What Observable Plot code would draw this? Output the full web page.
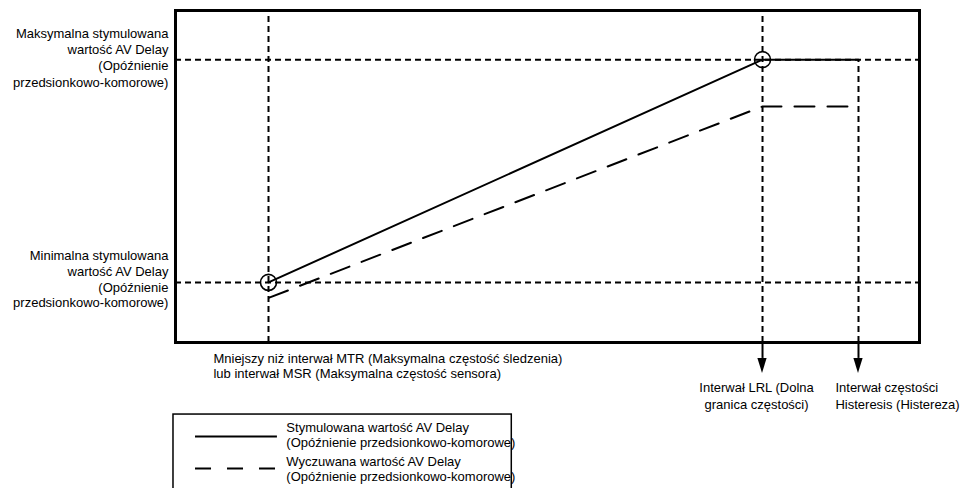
<!DOCTYPE html>
<html>
<head>
<meta charset="utf-8">
<script src="https://cdn.jsdelivr.net/npm/d3@7"></script>
<script src="https://cdn.jsdelivr.net/npm/@observablehq/plot@0.6"></script>
<style>
  html, body { margin: 0; padding: 0; background: white; }
  #chart svg { display: block; }
</style>
</head>
<body>
<div id="chart"></div>
<script>
// ---- Data (conceptual units: frame spans 0..100 on both axes) ----
const guideNames = ["MTR", "LRL", "Hyst"];
const guideX = [12.5, 78.9, 91.8];          // rate intervals
const guideTop = [100, 100, 85.2];           // where each vertical guide starts
const avLevelNames = ["max", "min"];
const avLevels = [85.2, 18.1];               // max / min paced AV delay
const pacedX = [12.5, 78.9, 91.8];
const pacedY = [18.1, 85.2, 85.2];
const sensedX = [12.6, 78.9, 91.8];
const sensedY = [13.5, 71.1, 71.1];

const maxLabel = "Maksymalna stymulowana\nwartość AV Delay\n(Opóźnienie\nprzedsionkowo-komorowe)";
const minLabel = "Minimalna stymulowana\nwartość AV Delay\n(Opóźnienie\nprzedsionkowo-komorowe)";
const mtrLabel = "Mniejszy niż interwał MTR (Maksymalna częstość śledzenia)\nlub interwał MSR (Maksymalna częstość sensora)";
const lrlLabel = "Interwał LRL (Dolna\ngranica częstości)";
const hystLabel = "Interwał częstości\nHisteresis (Histereza)";
const legendLabels = [
  "Stymulowana wartość AV Delay\n(Opóźnienie przedsionkowo-komorowe)",
  "Wyczuwana wartość AV Delay\n(Opóźnienie przedsionkowo-komorowe)"
];

// ---- Derived tables ----
const guides = guideNames.map((n, i) => ({name: n, x: guideX[i], top: guideTop[i]}));
const levels = avLevelNames.map((n, i) => ({name: n, y: avLevels[i]}));
const paced = pacedX.map((x, i) => ({x, y: pacedY[i]}));
const sensed = sensedX.map((x, i) => ({x, y: sensedY[i]}));
const arrowGuides = guides.filter(g => g.name !== "MTR");

const stemEnd = -4.8, tipY = -9.3, headHalf = 0.62;
const heads = arrowGuides.flatMap(g => [
  {name: g.name, y: stemEnd, x1: g.x - headHalf, x2: g.x + headHalf},
  {name: g.name, y: tipY, x1: g.x, x2: g.x}
]);

const FONT = "Liberation Sans, Arial, Helvetica, sans-serif";
const dashGuide = "6,4";

const chart = Plot.plot({
  width: 963,
  height: 488,
  marginLeft: 175,
  marginRight: 44,
  marginTop: 10,
  marginBottom: 146,
  x: {domain: [0, 100], axis: null},
  y: {domain: [0, 100], axis: null},
  style: {fontFamily: FONT, fontSize: "13px", background: "white", overflow: "visible", color: "black"},
  marks: [
    // horizontal AV guides
    Plot.ruleY(levels, {y: "y", x1: 0, x2: 100, stroke: "black", strokeWidth: 2, strokeDasharray: dashGuide}),
    // vertical rate guides
    Plot.ruleX(guides, {x: "x", y1: 0, y2: "top", stroke: "black", strokeWidth: 2, strokeDasharray: dashGuide}),
    // solid stems below frame
    Plot.ruleX(arrowGuides, {x: "x", y1: 0, y2: stemEnd, stroke: "black", strokeWidth: 2}),
    // arrowheads
    Plot.areaX(heads, {y: "y", x1: "x1", x2: "x2", z: "name", fill: "black", curve: "linear"}),
    // paced AV delay (solid)
    Plot.line(paced, {x: "x", y: "y", stroke: "black", strokeWidth: 2}),
    // sensed AV delay (dashed)
    Plot.line(sensed, {x: "x", y: "y", stroke: "black", strokeWidth: 2, strokeDasharray: "20,13"}),
    // circles at paced endpoints
    Plot.dot(paced.slice(0, 2), {x: "x", y: "y", r: 8, stroke: "black", strokeWidth: 1.6, fill: "none"}),
    // frame
    Plot.frame({stroke: "black", strokeWidth: 3}),
    // left labels
    Plot.text([maxLabel], {x: -0.95, y: avLevels[0] + 0.8, text: d => d, textAnchor: "end", lineAnchor: "middle", lineHeight: 1.25, fontSize: 13, fill: "black"}),
    Plot.text([minLabel], {x: -0.95, y: avLevels[1] + 1.1, text: d => d, textAnchor: "end", lineAnchor: "middle", lineHeight: 1.2, fontSize: 13, fill: "black"}),
    // bottom labels
    Plot.text([mtrLabel], {x: 5.1, y: -6.9, text: d => d, textAnchor: "start", lineAnchor: "middle", lineHeight: 1.2, fontSize: 13, fill: "black"}),
    Plot.text([lrlLabel], {x: 78.1, y: -15.9, text: d => d, textAnchor: "middle", lineAnchor: "middle", lineHeight: 1.25, fontSize: 13, fill: "black"}),
    Plot.text([hystLabel], {x: 88.7, y: -15.9, text: d => d, textAnchor: "start", lineAnchor: "middle", lineHeight: 1.25, fontSize: 13, fill: "black"}),
    // legend box
    Plot.rect([0], {x1: -0.27, x2: 45.2, y1: -21.7, y2: -46, fill: "white", stroke: "black", strokeWidth: 1.5}),
    Plot.ruleY([-28.3], {y: d => d, x1: 2.69, x2: 13.7, stroke: "black", strokeWidth: 2}),
    Plot.ruleY([-37.95], {y: d => d, x1: 2.69, x2: 13.7, stroke: "black", strokeWidth: 2, strokeDasharray: "16,16"}),
    Plot.text(legendLabels, {x: 14.9, y: (d, i) => i === 0 ? -27.9 : -38.1, text: d => d, textAnchor: "start", lineAnchor: "middle", lineHeight: 1.15, fontSize: 13, fill: "black"})
  ]
});

document.getElementById("chart").appendChild(chart);
</script>
</body>
</html>
